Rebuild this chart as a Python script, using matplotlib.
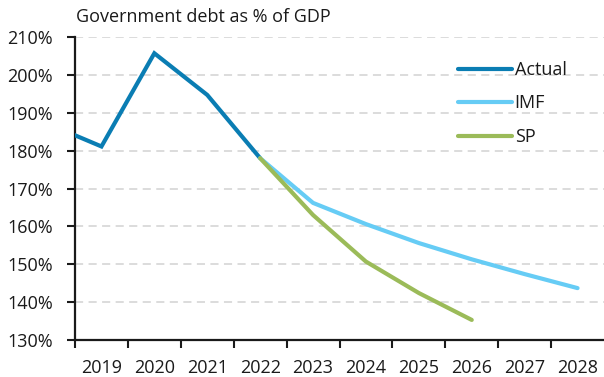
import matplotlib
matplotlib.use("Agg")
import matplotlib.pyplot as plt
from matplotlib.ticker import FixedLocator, FuncFormatter

# Government debt, % of GDP
actual_years = [2018, 2019, 2020, 2021, 2022]
actual_values = [187.0, 181.1, 205.7, 194.7, 178.0]

imf_years = [2022, 2023, 2024, 2025, 2026, 2027, 2028]
imf_values = [178.0, 166.2, 160.6, 155.6, 151.3, 147.4, 143.7]

sp_years = [2022, 2023, 2024, 2025, 2026]
sp_values = [178.0, 163.0, 150.7, 142.4, 135.3]

year_labels = list(range(2019, 2029))
y_ticks = list(range(130, 211, 10))

plt.rcParams["font.family"] = ["Open Sans", "DejaVu Sans"]
FS = 13
INK = "#1a1a1a"

fig = plt.figure(figsize=(6.04, 3.77), dpi=100)
ax = fig.add_axes([75 / 604, 37 / 377, 529 / 604, 303 / 377])

ax.plot(actual_years, actual_values, color="#0A7DB3", lw=3.0, label="Actual",
        solid_capstyle="butt", solid_joinstyle="miter", zorder=3)
ax.plot(imf_years, imf_values, color="#66CCF5", lw=3.0, label="IMF",
        solid_capstyle="round", solid_joinstyle="miter", zorder=4)
ax.plot(sp_years, sp_values, color="#9BBB59", lw=3.0, label="SP",
        solid_capstyle="round", solid_joinstyle="miter", zorder=5)

ax.set_xlim(2018.5, 2028.5)
ax.set_ylim(130, 210)

# category-style x axis: ticks between years, labels centred on years
ax.xaxis.set_major_locator(FixedLocator([y - 0.5 for y in year_labels]))
ax.xaxis.set_major_formatter(FuncFormatter(lambda v, p: ""))
ax.xaxis.set_minor_locator(FixedLocator(year_labels))
ax.xaxis.set_minor_formatter(FuncFormatter(lambda v, p: f"{int(round(v))}"))
ax.tick_params(axis="x", which="major", length=6, width=1.5, color=INK,
               direction="out")
ax.tick_params(axis="x", which="minor", length=0, pad=13.5, labelsize=FS,
               labelcolor=INK)

ax.set_yticks(y_ticks)
ax.yaxis.set_major_formatter(FuncFormatter(lambda v, p: f"{int(v)}%"))
ax.tick_params(axis="y", length=6, width=1.5, color=INK, pad=10,
               labelsize=FS, labelcolor=INK)

ax.grid(axis="y", color="#D9D9D9", lw=1.3, ls=(0, (4.5, 3)))
ax.set_axisbelow(True)

for side in ("top", "right"):
    ax.spines[side].set_visible(False)
for side in ("left", "bottom"):
    ax.spines[side].set_color(INK)
    ax.spines[side].set_linewidth(1.6)

fig.text(76 / 604, 1 - 17 / 377, "Government debt as % of GDP",
         fontsize=FS, color=INK, ha="left", va="center")

leg = ax.legend(loc="upper left", bbox_to_anchor=(0.71, 0.945), frameon=False,
                fontsize=FS, handlelength=3.0, handletextpad=0.15,
                labelspacing=0.86, borderaxespad=0)
for h in leg.get_lines():
    h.set_solid_capstyle("round")
    h.set_linewidth(3.0)
for t in leg.get_texts():
    t.set_color(INK)

fig.savefig("out.png", dpi=100)
